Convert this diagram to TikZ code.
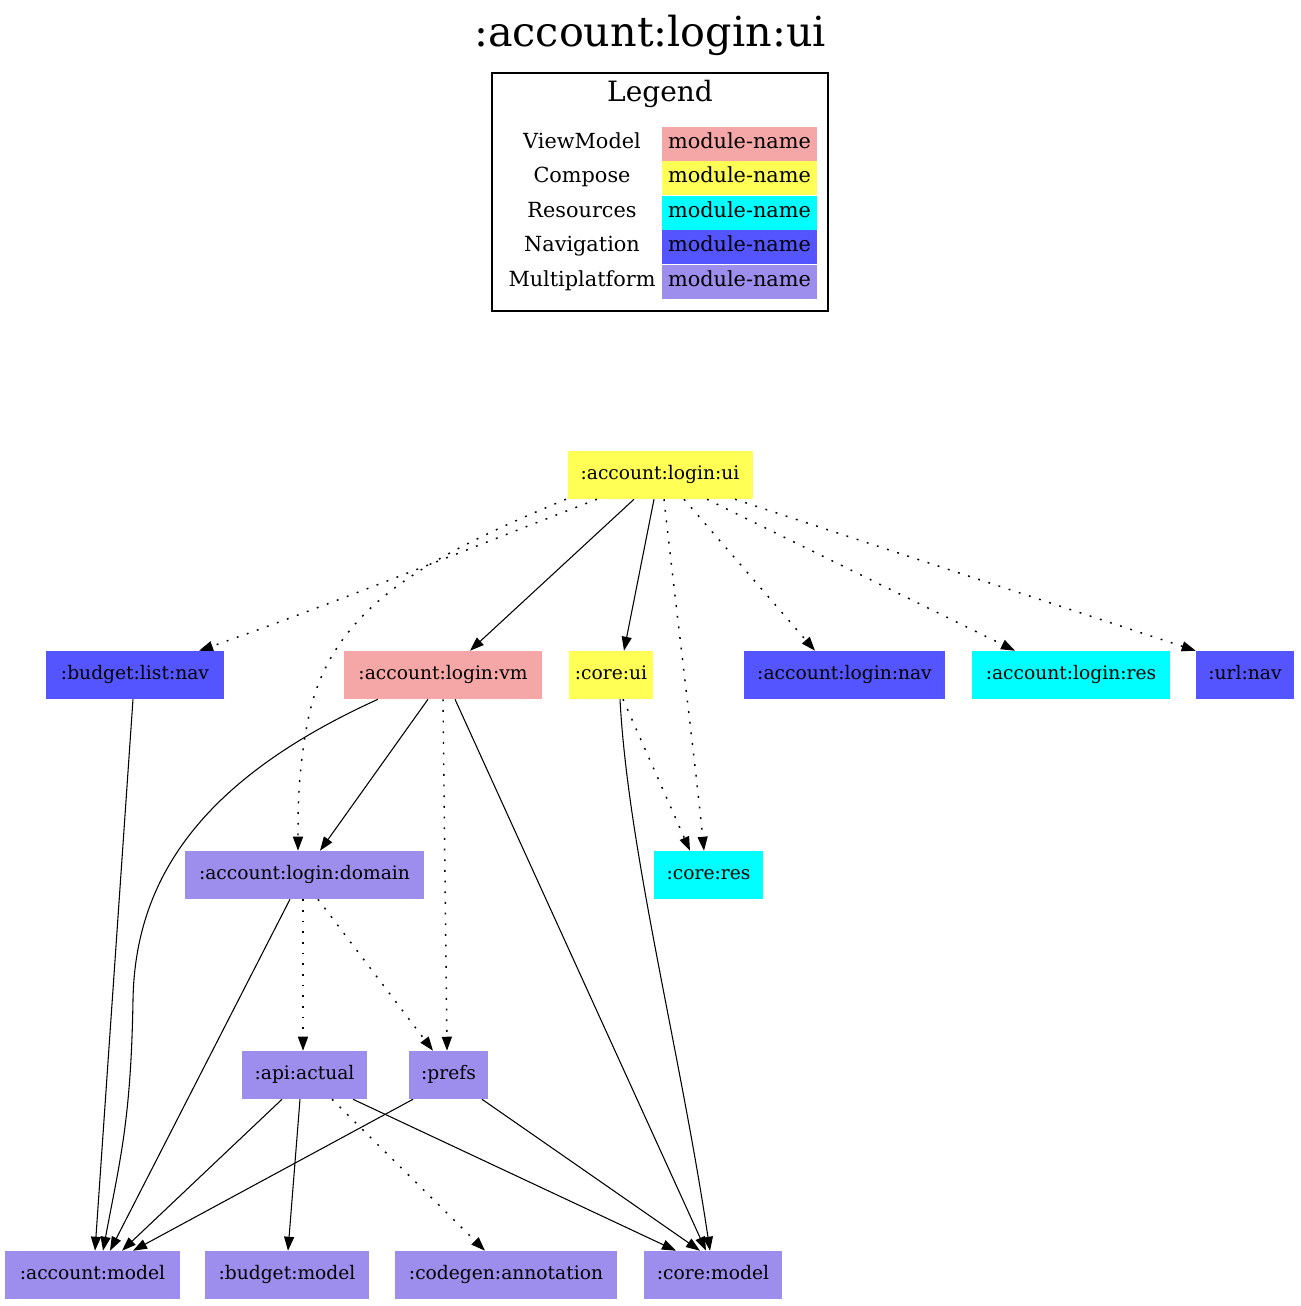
\documentclass[tikz,border=0pt]{standalone}
\usepackage{fontspec}
\setmainfont{DejaVu Serif}
\usetikzlibrary{arrows.meta,calc}

\definecolor{cvm}{RGB}{245,166,166}
\definecolor{ccomp}{RGB}{255,255,85}
\definecolor{cresc}{RGB}{0,255,255}
\definecolor{cnav}{RGB}{85,85,255}
\definecolor{cmp}{RGB}{157,142,238}

\tikzset{
  module/.style={draw=none, inner sep=0pt, minimum height=36pt,
    text height=0.92em, text depth=0.2em,
    font=\fontsize{14}{16}\selectfont},
  vmmod/.style={module, fill=cvm},
  compmod/.style={module, fill=ccomp},
  resmod/.style={module, fill=cresc},
  navmod/.style={module, fill=cnav},
  mpmod/.style={module, fill=cmp},
  legcell/.style={inner sep=0pt, minimum width=116.25pt, minimum height=25.5pt,
    text height=0.92em, text depth=0.2em,
    font=\fontsize{15.6}{18}\selectfont},
  leglabel/.style={inner sep=0pt, text height=0.92em, text depth=0.2em,
    font=\fontsize{15.6}{18}\selectfont},
  impl/.style={line width=0.8pt, -{Triangle[length=10.5pt,width=7.5pt]}},
  apidep/.style={line width=1.1pt, dash pattern=on 1.4pt off 6.6pt,
    -{Triangle[length=10.5pt,width=7.5pt]}},
}

\begin{document}
\begin{tikzpicture}[x=0.75pt, y=-0.75pt]
\useasboundingbox (0,0) rectangle (1300,1306);

% title
\node[inner sep=0pt, font=\fontsize{31}{35}\selectfont] (title) at (650,35) {:account:login:ui};

% legend
\draw[line width=0.8pt] (492,73) rectangle (828,311);
\node[inner sep=0pt, font=\fontsize{21}{25}\selectfont] (legtitle) at (660,94) {Legend};
\node[leglabel] (l1) at (582,143.5) {ViewModel};
\node[leglabel] (l2) at (582,178) {Compose};
\node[leglabel] (l3) at (582,212.5) {Resources};
\node[leglabel] (l4) at (582,247) {Navigation};
\node[leglabel] (l5) at (582,281.5) {Multiplatform};
\node[legcell, fill=cvm] (c1) at (739.5,143.5) {module-name};
\node[legcell, fill=ccomp] (c2) at (739.5,178) {module-name};
\node[legcell, fill=cresc] (c3) at (739.5,212.5) {module-name};
\node[legcell, fill=cnav] (c4) at (739.5,247) {module-name};
\node[legcell, fill=cmp] (c5) at (739.5,281.5) {module-name};

% modules
\node[compmod, minimum width=138.75pt] (ui) at (660,475) {:account:login:ui};

\node[navmod, minimum width=133.5pt] (bln) at (135,675) {:budget:list:nav};
\node[vmmod, minimum width=148.5pt] (vm) at (443,675) {:account:login:vm};
\node[compmod, minimum width=63pt] (cui) at (611,675) {:core:ui};
\node[navmod, minimum width=150.75pt] (nav) at (844.5,675) {:account:login:nav};
\node[resmod, minimum width=148.5pt] (res) at (1071,675) {:account:login:res};
\node[navmod, minimum width=73.5pt] (url) at (1245,675) {:url:nav};

\node[mpmod, minimum width=179.25pt] (dom) at (304.5,875) {:account:login:domain};
\node[resmod, minimum width=81.75pt] (cres) at (708.5,875) {:core:res};

\node[mpmod, minimum width=93.75pt] (api) at (304.5,1075) {:api:actual};
\node[mpmod, minimum width=59.25pt] (prefs) at (448.5,1075) {:prefs};

\node[mpmod, minimum width=131.25pt] (am) at (92.5,1275) {:account:model};
\node[mpmod, minimum width=123pt] (bm) at (287,1275) {:budget:model};
\node[mpmod, minimum width=166.5pt] (cg) at (506,1275) {:codegen:annotation};
\node[mpmod, minimum width=103.5pt] (cm) at (713,1275) {:core:model};

% dependencies of :account:login:ui
\draw[apidep] ($(ui.south)+(-63,0)$) .. controls (470,548) and (330,605) .. ($(bln.north)+(64,0)$);
\draw[apidep] ($(ui.south)+(-94,0)$) .. controls (420,560) and (330,610) .. (308,720)
  .. controls (298,770) and (298,810) .. ($(dom.north)+(-6.5,0)$);
\draw[impl] ($(ui.south)+(-26,0)$) -- ($(vm.north)+(27,0)$);
\draw[impl] ($(ui.south)+(-6,0)$) -- ($(cui.north)+(13,0)$);
\draw[apidep] ($(ui.south)+(4,0)$) .. controls (675,600) and (695,760) .. ($(cres.north)+(-4.5,0)$);
\draw[apidep] ($(ui.south)+(24,0)$) -- ($(nav.north)+(-29.5,0)$);
\draw[apidep] ($(ui.south)+(47,0)$) -- ($(res.north)+(-56,0)$);
\draw[apidep] ($(ui.south)+(75,0)$) -- (url.north west);

% second row
\draw[impl] ($(bln.south)+(-2,0)$) -- ($(am.north)+(2.5,0)$);
\draw[impl] ($(vm.south)+(-65,0)$) .. controls (200,780) and (135,880) .. (133,1000)
  .. controls (131,1120) and (120,1160) .. ($(am.north)+(10.5,0)$);
\draw[impl] ($(vm.south)+(-15,0)$) -- ($(dom.north)+(15.5,0)$);
\draw[apidep] (vm.south) -- ($(prefs.north)+(-1.5,0)$);
\draw[impl] ($(vm.south)+(12,0)$) -- ($(cm.north)+(-7,0)$);
\draw[impl] ($(cui.south)+(9,0)$) .. controls (628,850) and (680,1050) .. ($(cm.north)+(-3,0)$);
\draw[apidep] ($(cui.south)+(12,0)$) -- ($(cres.north)+(-18.5,0)$);

% third row
\draw[impl] ($(dom.south)+(-14.5,0)$) -- ($(am.north)+(17.5,0)$);
\draw[apidep] ($(dom.south)+(-1.5,0)$) -- ($(api.north)+(-1.5,0)$);
\draw[apidep] ($(dom.south)+(13.5,0)$) -- ($(prefs.north)+(-15.5,0)$);

% fourth row
\draw[impl] ($(api.south)+(-22.5,0)$) -- ($(am.north)+(29.5,0)$);
\draw[impl] ($(api.south)+(-4.5,0)$) -- ($(bm.north)+(1,0)$);
\draw[apidep] ($(api.south)+(27.5,0)$) -- ($(cg.north)+(-21,0)$);
\draw[impl] ($(api.south)+(48.5,0)$) -- ($(cm.north)+(-37,0)$);
\draw[impl] ($(prefs.south)+(-35.5,0)$) -- ($(am.north)+(40.5,0)$);
\draw[impl] ($(prefs.south)+(33.5,0)$) -- ($(cm.north)+(-13,0)$);
\end{tikzpicture}
\end{document}
